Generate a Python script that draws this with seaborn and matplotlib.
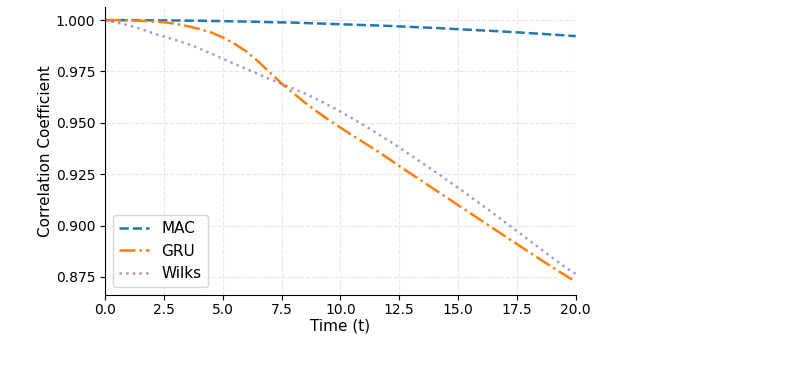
import matplotlib
matplotlib.use("Agg")
import matplotlib.pyplot as plt
import seaborn as sns
import pandas as pd

time = [0, 0.5, 1, 1.5, 2, 2.5, 3, 3.5, 4, 4.5, 5, 5.5, 6, 6.5, 7, 7.5, 8, 8.5, 9, 9.5, 10,
        10.5, 11, 11.5, 12, 12.5, 13, 13.5, 14, 14.5, 15, 15.5, 16, 16.5, 17, 17.5, 18, 18.5,
        19, 19.5, 20]
mac = [1.0, 1.0, 1.0, 0.99995, 0.9999, 0.99988, 0.99982, 0.99976, 0.9997, 0.9996, 0.9995,
       0.9994, 0.9993, 0.9992, 0.9990, 0.9989, 0.9988, 0.9986, 0.9984, 0.9982, 0.9980,
       0.9978, 0.9976, 0.9974, 0.9972, 0.99695, 0.9967, 0.99645, 0.9962, 0.9959, 0.9956,
       0.9953, 0.9950, 0.9947, 0.9944, 0.99405, 0.9937, 0.99335, 0.9930, 0.9926, 0.9922]
gru = [1.0, 1.0, 0.9999, 0.9997, 0.9994, 0.9990, 0.9982, 0.9971, 0.9957, 0.9940, 0.9916,
       0.9885, 0.9848, 0.9800, 0.9745, 0.9692, 0.9645, 0.9598, 0.9555, 0.9515, 0.9477,
       0.9440, 0.9404, 0.9368, 0.9330, 0.9290, 0.9252, 0.9214, 0.9176, 0.9138, 0.9100,
       0.9062, 0.9024, 0.8986, 0.8948, 0.8910, 0.8872, 0.8835, 0.8798, 0.8762, 0.8726]
wilks = [1.0, 0.9988, 0.9975, 0.9958, 0.9938, 0.9920, 0.9903, 0.9885, 0.9862, 0.9838, 0.9812,
         0.9787, 0.9763, 0.9738, 0.9713, 0.9690, 0.9667, 0.9642, 0.9615, 0.9586, 0.9555,
         0.9522, 0.9488, 0.9453, 0.9417, 0.9380, 0.9342, 0.9303, 0.9264, 0.9224, 0.9184,
         0.9143, 0.9101, 0.9059, 0.9016, 0.8973, 0.8930, 0.8887, 0.8844, 0.8802, 0.8765]

series = {"MAC": mac, "GRU": gru, "Wilks": wilks}
styles = {"MAC": ("#1f77b4", "--", 1.0), "GRU": ("#ff7f0e", "-.", 1.0), "Wilks": ("#9467bd", ":", 0.7)}

fig = plt.figure(figsize=(7.92, 3.67), dpi=100)
ax = fig.add_axes([0.1326, 0.196, 0.5944, 0.785])

for name, vals in series.items():
    df = pd.DataFrame({"t": time, "v": vals})
    c, ls, a = styles[name]
    sns.lineplot(data=df, x="t", y="v", ax=ax, color=c, linestyle=ls, linewidth=1.8,
                 alpha=a, label=name)

ax.set_xlim(0, 20)
ax.set_ylim(0.8662, 1.0064)
ax.set_xticks([0, 2.5, 5, 7.5, 10, 12.5, 15, 17.5, 20])
ax.set_yticks([0.875, 0.9, 0.925, 0.95, 0.975, 1.0])
ax.set_yticklabels(["0.875", "0.900", "0.925", "0.950", "0.975", "1.000"])
ax.set_xticklabels(["0.0", "2.5", "5.0", "7.5", "10.0", "12.5", "15.0", "17.5", "20.0"])
ax.tick_params(labelsize=10)
ax.tick_params(axis="x", pad=2.5)
ax.set_xlabel("Time (t)", fontsize=11, labelpad=1)
ax.set_ylabel("Correlation Coefficient", fontsize=11, labelpad=2)
ax.grid(True, linestyle="--", alpha=0.3)
sns.despine(ax=ax)
ax.legend(loc="lower left", fontsize=11, frameon=True)

fig.savefig("out.png", dpi=100)
